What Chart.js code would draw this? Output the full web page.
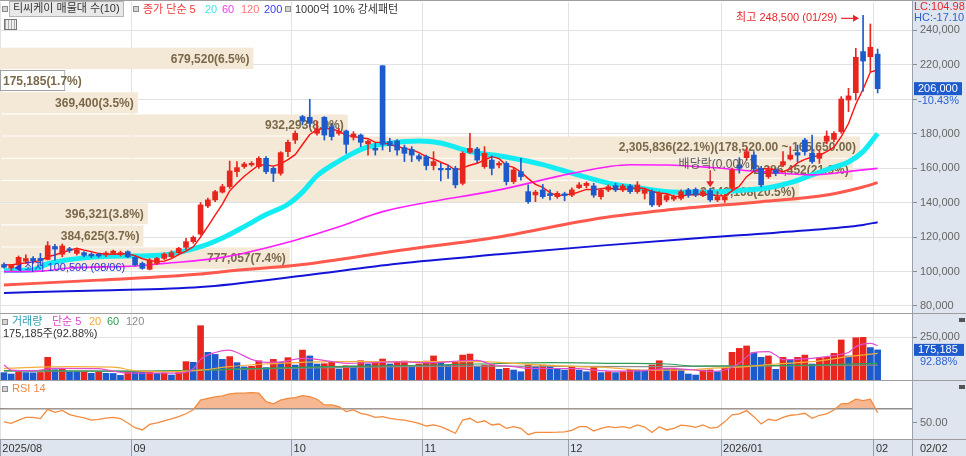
<!DOCTYPE html>
<html lang="ko">
<head>
<meta charset="utf-8">
<title>티씨케이 일봉</title>
<script src="https://cdn.jsdelivr.net/npm/chart.js@4.4.1/dist/chart.umd.min.js"></script>
<style>
  body { margin:0; width:966px; height:456px; overflow:hidden; position:relative; background:#dfe5ee;
         font-family:"Liberation Sans","Noto Sans CJK KR",sans-serif; }
  #plot { position:absolute; left:0; top:0; width:912px; height:439px; background:#fff; }
  canvas { position:absolute; left:0; }
  .sep { position:absolute; left:0; width:966px; height:1px; background:#9e9e9e; }
  .vsep { position:absolute; left:912px; top:0; width:1px; height:456px; background:#98a1ae; }
  .t { position:absolute; white-space:nowrap; font-size:11px; line-height:13px; }
  .sq { position:absolute; width:4px; height:4px; border:1px solid #8c8c8c; background:#d4d4d4; }
  .ic { position:absolute; width:6px; height:4px; background:#555; }
</style>
</head>
<body>
<div id="plot"></div>
<canvas id="profile" width="966" height="313" style="top:0"></canvas>
<canvas id="price" width="966" height="313" style="top:0"></canvas>
<canvas id="volume" width="966" height="67" style="top:313px"></canvas>
<canvas id="rsi" width="966" height="76" style="top:380px"></canvas>
<div class="sep" style="top:0"></div>
<div class="sep" style="top:313px"></div>
<div class="sep" style="top:380px"></div>
<div class="sep" style="top:439px"></div>
<div class="vsep"></div>

<div class="sq" style="left:2px;top:6px"></div>
<div class="t" style="left:9px;top:1px;height:14px;padding:0 3px;background:#e8e8e8;border:1px solid #b5b5b5;color:#333">티씨케이 매물대 수(10)</div>
<div style="position:absolute;left:4px;top:19px;width:11px;height:9px;border:1px solid #777;background:repeating-linear-gradient(90deg,#aaa 0 1px,#eee 1px 3px)"></div>
<div class="sq" style="left:133px;top:6px"></div>
<div class="t" style="left:143px;top:3px;color:#f03a3a">종가 단순 5</div>
<div class="t" style="left:205px;top:3px;color:#3ce6ea">20</div>
<div class="t" style="left:222px;top:3px;color:#f03cf0">60</div>
<div class="t" style="left:241px;top:3px;color:#ff7676">120</div>
<div class="t" style="left:264px;top:3px;color:#3a3af0">200</div>
<div class="sq" style="left:285px;top:6px"></div>
<div class="t" style="left:295px;top:3px;color:#333">1000억 10% 강세패턴</div>

<div class="sq" style="left:2px;top:319px"></div>
<div class="t" style="left:12px;top:315px;color:#2b9fb3">거래량</div>
<div class="t" style="left:52px;top:315px;color:#e048cc">단순 5</div>
<div class="t" style="left:89px;top:315px;color:#f0aa30">20</div>
<div class="t" style="left:107px;top:315px;color:#2f9e55">60</div>
<div class="t" style="left:126px;top:315px;color:#8a8a8a">120</div>
<div class="t" id="volInfo" style="left:3px;top:327px;color:#333"></div>
<div class="sq" style="left:2px;top:386px"></div>
<div class="t" style="left:12px;top:382px;color:#f08a40">RSI 14</div>

<div class="t" id="lc" style="left:914px;top:0;color:#e3282c"></div>
<div class="t" id="hc" style="left:914px;top:11px;color:#2c62d2"></div>
<div class="t" id="lastDay" style="left:920px;top:442px;color:#333"></div>
<div class="ic" style="left:959px;top:318px"></div>
<div class="ic" style="left:959px;top:385px"></div>

<script>
const dates = [
  '2025/08/05','2025/08/06','2025/08/07','2025/08/08','2025/08/11','2025/08/12','2025/08/13','2025/08/14','2025/08/18','2025/08/19',
  '2025/08/20','2025/08/21','2025/08/22','2025/08/25','2025/08/26','2025/08/27','2025/08/28','2025/08/29',
  '2025/09/01','2025/09/02','2025/09/03','2025/09/04','2025/09/05','2025/09/08','2025/09/09','2025/09/10','2025/09/11','2025/09/12',
  '2025/09/15','2025/09/16','2025/09/17','2025/09/18','2025/09/19','2025/09/22','2025/09/23','2025/09/24','2025/09/25','2025/09/26',
  '2025/09/29','2025/09/30',
  '2025/10/01','2025/10/02','2025/10/10','2025/10/13','2025/10/14','2025/10/15','2025/10/16','2025/10/17','2025/10/20','2025/10/21',
  '2025/10/22','2025/10/23','2025/10/24','2025/10/27','2025/10/28','2025/10/29','2025/10/30','2025/10/31',
  '2025/11/03','2025/11/04','2025/11/05','2025/11/06','2025/11/07','2025/11/10','2025/11/11','2025/11/12','2025/11/13','2025/11/14',
  '2025/11/17','2025/11/18','2025/11/19','2025/11/20','2025/11/21','2025/11/24','2025/11/25','2025/11/26','2025/11/27','2025/11/28',
  '2025/12/01','2025/12/02','2025/12/03','2025/12/04','2025/12/05','2025/12/08','2025/12/09','2025/12/10','2025/12/11','2025/12/12',
  '2025/12/15','2025/12/16','2025/12/17','2025/12/18','2025/12/19','2025/12/22','2025/12/23','2025/12/24','2025/12/26','2025/12/29',
  '2025/12/30',
  '2026/01/02','2026/01/05','2026/01/06','2026/01/07','2026/01/08','2026/01/09','2026/01/12','2026/01/13','2026/01/14','2026/01/15',
  '2026/01/16','2026/01/19','2026/01/20','2026/01/21','2026/01/22','2026/01/23','2026/01/26','2026/01/27','2026/01/28','2026/01/29',
  '2026/01/30',
  '2026/02/02'
];

const opens = [
  104000,102000,103800,106000,107600,107600,107000,114500,110000,113200,
  110500,110900,110100,110000,109600,110500,109800,111500,108200,104700,
  101300,104700,107600,108600,110900,114000,117300,121700,138000,141500,
  146000,149200,157900,160800,161800,160800,165600,159800,156900,169500,
  176200,189800,189400,180100,189400,184000,180100,181500,177800,179100,
  174000,171400,219300,175300,175700,171800,170800,167000,166600,161400,
  159800,159800,159800,151100,169100,171000,160800,164600,161700,162700,
  152100,157900,146300,144400,147300,145100,143400,145000,144300,148600,
  149800,149600,143400,147300,149800,147300,149600,146300,145300,146300,
  138600,141500,142000,142400,147300,147600,144300,146900,141500,141500,
  148200,161700,166000,167500,159800,155000,158900,161700,165200,168900,
  176200,168500,165600,175500,176600,181100,199400,203700,227500,224500,
  226000
];
const highs = [
  105000,104000,109000,109600,108600,110500,117300,115800,116000,114000,
  113500,111500,110900,110600,111500,112400,111800,112000,108600,105500,
  107500,108200,110800,112000,114000,119200,120600,140000,142500,147000,
  150500,164000,163700,163300,163700,166600,166600,160800,169500,176200,
  181500,190500,199800,186900,189800,185900,183000,182000,181100,179700,
  176200,174300,219300,177200,176500,173300,172400,168000,167500,169500,
  162700,161700,161000,169500,180100,172000,172400,167000,163700,163700,
  160000,165600,150200,147000,150500,147300,146300,146000,148500,151500,
  152000,151100,148200,150200,151100,150500,150500,152100,147800,147300,
  146300,145000,144300,147300,148200,148500,147300,148200,146300,144500,
  160000,166000,171500,169500,161000,160800,160000,169500,172400,173300,
  177200,179100,170400,181500,181100,201400,206200,229400,248500,243500,
  229000
];
const lows = [
  102000,100500,102800,104500,104700,103800,106700,106500,108500,111000,
  109500,108500,108000,108200,108600,109800,109000,108000,103200,101300,
  100900,104000,107000,108000,110500,112500,116300,121000,137000,140500,
  145500,148200,155000,159800,161000,159800,156700,152100,155800,166600,
  174200,185000,184000,179100,176200,176200,179100,168500,176200,172400,
  167500,167500,170400,169500,167500,163700,163700,164000,158900,158900,
  152500,154000,148500,150200,168500,163000,159800,156000,160000,150200,
  151000,153000,139500,140500,142400,141500,142400,141000,143400,148000,
  148500,143000,142000,146300,146300,146300,145300,145300,142000,137600,
  137600,140500,141000,141500,143000,143400,143400,140500,140500,140000,
  147000,157000,164500,158000,149000,154000,155500,160800,164600,163700,
  167500,162700,162700,174000,175300,180100,192700,199400,204500,216000,
  203500
];
const closes = [
  102500,103500,108200,107500,106100,106300,115000,113000,114800,112100,
  112500,109400,109000,109000,110700,111800,110900,108600,103800,101800,
  106700,107600,110100,110900,113400,117300,119800,138600,141500,146300,
  149200,158300,160200,162300,162700,165600,157900,156900,168900,174900,
  180100,187300,185900,182600,179100,178200,181100,173700,179700,174900,
  175500,170400,173700,173000,170400,168500,167500,165200,161400,163700,
  158900,159000,150200,168500,171400,164600,168500,159800,162700,152100,
  158900,155000,140500,146000,143400,144000,145300,144000,147300,150200,
  151100,144300,147300,149200,147300,149600,146300,150200,147300,138600,
  145300,144000,143400,146300,144300,144300,146300,141500,143400,143400,
  158900,159800,169500,159400,150200,158900,157000,163700,167500,167500,
  169500,163700,168500,178500,180100,200000,201800,224200,222000,230000,
  206000
];

const ma5 = [
  104000,103800,104500,105000,105560,106320,108620,109580,111040,112240,
  113480,112360,111560,110400,110120,109980,110280,110200,109160,107380,
  106360,105700,106000,107420,109740,111860,114300,120000,126120,132700,
  139080,146780,151100,155260,158540,161820,161740,161080,162400,164840,
  167740,173620,179420,182160,183000,182620,181380,178940,178360,177520,
  176980,174840,174840,173500,172600,171200,170620,168920,166600,165260,
  163340,161640,158640,160060,161600,162740,164640,166560,165400,161540,
  160400,157700,153840,150500,148760,145780,143840,144540,144800,146160,
  147580,147380,148040,148420,147840,147540,147940,148520,148140,146400,
  145540,145080,143720,143520,144660,144460,144920,144540,143960,143780,
  146700,149400,155000,158200,159560,159560,159000,157840,159460,162920,
  165040,166380,167340,169540,172060,178160,185780,196920,205620,215600,
  216800
];
const ma20At = [0,4,6,13,18,22,27,30,33,36,39,41,43,46,48,50,53,55,57,60,64,69,74,78,83,87,91,95,98,101,105,108,111,114,116,118,120];
const ma20 = [100500,101000,104500,108500,109000,109600,114400,119400,126000,133000,
  139000,146000,155500,164000,168700,172200,174400,175300,175700,174500,
  169500,166400,162000,157000,151200,148600,146300,146000,146300,147000,
  148600,151500,156000,160500,163500,169500,180000];
const ma60At = [0,5,9,18,22,30,39,46,52,60,65,69,78,86,91,97,104,111,117,120];
const ma60 = [99900,100200,102000,103200,104700,108200,117000,126000,134700,141500,
  145000,148200,156900,161900,161700,160300,157900,156000,158500,159800];
const ma120At = [0,13,27,30,41,54,68,82,91,104,113,118,120];
const ma120 = [92200,95000,98500,99900,104000,112000,120000,131000,135600,140500,144300,149000,151500];
const ma200At = [0,13,27,41,54,68,82,96,109,118,120];
const ma200 = [87600,89000,91000,97600,104500,110000,115000,119500,123500,127000,128600];

const volumes = [
  42600,35000,48000,43000,42000,44000,132000,60000,62000,48000,
  47000,49000,39000,48000,39000,38000,27000,49000,48000,46000,
  48000,39000,41000,29000,43000,107000,103000,316000,161000,149000,
  120000,136000,101000,76000,80000,112000,72000,120000,103000,130000,
  87000,174000,140000,93000,95000,103000,64000,83000,82000,112000,
  93000,103000,122000,93000,103000,110000,81000,93000,110000,140000,
  101000,87000,107000,145000,151000,78000,87000,88000,62000,68000,
  58000,48000,87000,74000,87000,86000,64000,58000,74000,58000,
  48000,78000,43000,48000,43000,48000,62000,58000,57000,87000,
  112000,68000,69000,62000,35000,29000,58000,59000,48000,68000,
  161000,184000,198000,159000,132000,140000,62000,132000,120000,132000,
  145000,93000,126000,132000,155000,233000,140000,246000,248000,188613,
  175185
];
const vma5At = [0,1,4,7,13,15,17,24,26,27,29,31,32,34,36,38,41,43,45,47,50,54,59,63,65,67,70,72,79,81,84,88,91,95,97,99,101,102,103,105,106,107,109,113,115,116,117,119,120];
const vma5 = [87000,58000,54000,68000,66000,52000,40000,40000,65000,120000,
  160000,174000,160000,120000,103000,105000,126000,120000,107000,97000,
  100000,105000,101000,112000,114000,90000,78000,68000,66000,58000,
  52000,54000,68000,58000,50000,58000,97000,136000,159000,165000,
  145000,118000,120000,136000,150000,160000,194000,213000,200000];
const vma20At = [0,9,15,18,22,27,31,36,45,50,65,70,74,79,83,88,93,97,102,106,111,116,120];
const vma20 = [68000,78000,75000,54000,48000,58000,78000,93000,107000,107000,107000,97000,
  87000,78000,72000,58000,58000,68000,78000,93000,107000,136000,155000];
const vma60At = [0,18,27,36,45,54,65,75,84,91,95,102,111,120];
const vma60 = [54000,52000,58000,68000,78000,83000,93000,101000,97000,93000,81000,83000,87000,97000];
const vma120At = [0,18,36,54,65,88,102,120];
const vma120 = [52000,50000,66000,78000,81000,78000,81000,87000];

const rsi = [
  51.5,49.5,54,57.7,57.5,56,68.5,64.5,67,61.5,
  59,57,54,55,56.5,57.5,56,50,43.6,40.5,
  48,50,53,55.5,58.5,62.5,68,81,83.6,85.5,
  86.8,89.5,90.5,90.5,91.4,90.5,79,76,81,83.6,
  84.5,87.3,86,82.3,74.5,74.5,72.3,65.5,67.7,63.2,
  61,57.7,58.6,56.4,55,54,51.8,49.5,45.9,47.3,
  45,40.5,36,54,56.4,50.5,53,47.3,48.6,42.7,
  45,42.7,34,37.3,37.3,37.3,37.5,38,40,45,
  45,39,42.5,45,43.6,45,43,47.3,44.5,37,
  45,40.5,42.7,47,46,44,47.3,43,44,51.5,
  61,62.3,66.8,58.6,48.6,55,53.2,57.7,60.5,61.4,
  63.2,56.4,60.5,62.3,67.7,76,76.8,82.3,80.5,82.3,
  64
];

// volume profile (매물대): lower edge of each price band, band height, traded volume
const bandLow = [101300,114170,127040,139910,152780,165650,178520,191390,204260,217130];
const bandStep = 12870;
const bandVol = [777057,384625,396321,2143108,2286452,2305836,932293,369400,175185,679520];

const priceTicks = [80000,100000,120000,140000,160000,180000,200000,220000,240000];
const volTicks = [250000];
const rsiTicks = [50, 70];
const exDivDate = '2025/12/29';

const FONT = '"Liberation Sans","Noto Sans CJK KR",sans-serif';
const RED = '#e8261e', BLUE = '#1d5bcc';
const X_MIN = -0.55, X_MAX = 124.72;
const P_MIN = 75942, P_MAX = 256232;

const fmt = v => v.toLocaleString('en-US');
const fmt2 = v => v.toLocaleString('en-US', { minimumFractionDigits: 2 });
const md = i => dates[i].slice(5);
const last = closes.length - 1;
const lowIdx = lows.indexOf(Math.min(...lows));
const highIdx = highs.indexOf(Math.max(...highs));
const chg = ((closes[last] / closes[last - 1] - 1) * 100).toFixed(2);
const volRatio = (volumes[last] / volumes[last - 1] * 100).toFixed(2);
const bandTotal = bandVol.reduce((a, b) => a + b, 0);
const bandMax = Math.max(...bandVol);
const curBand = bandLow.findIndex(p => closes[last] >= p && closes[last] < p + bandStep);

const monthStarts = dates.map((d, i) => (i === 0 || d.slice(0, 7) !== dates[i - 1].slice(0, 7)) ? i : -1).filter(i => i >= 0);
const monthLabel = i => (i === 0 || dates[i].slice(5, 7) === '01') ? dates[i].slice(0, 7) : dates[i].slice(5, 7);

document.getElementById('lc').textContent = 'LC:' + ((closes[last] / lows[lowIdx] - 1) * 100).toFixed(2);
document.getElementById('hc').textContent = 'HC:' + ((closes[last] / highs[highIdx] - 1) * 100).toFixed(2);
document.getElementById('volInfo').textContent = fmt(volumes[last]) + '주(' + volRatio + '%)';
document.getElementById('lastDay').textContent = md(last);

const base = {
  responsive: false, animation: false, events: [],
  plugins: { legend: { display: false }, tooltip: { enabled: false } }
};

function monthAxis(withLabels) {
  return {
    type: 'linear', position: 'bottom', min: X_MIN, max: X_MAX, offset: false,
    afterBuildTicks: s => { s.ticks = monthStarts.map(i => ({ value: i - 0.5 })); },
    afterFit: s => { s.height = withLabels ? 17 : 0; s.paddingLeft = 0; s.paddingRight = 0; },
    grid: { offset: false, color: '#e2e2e2', drawTicks: withLabels, tickLength: 17, tickColor: '#939dab' },
    border: { display: false },
    ticks: {
      display: withLabels, autoSkip: false, maxRotation: 0, align: 'start', padding: -14, labelOffset: 2,
      color: '#333', font: { family: FONT, size: 11 },
      callback: (v, k) => monthLabel(monthStarts[k])
    }
  };
}

function rightAxis(min, max, tickList, extra) {
  return Object.assign({
    type: 'linear', position: 'right', min, max, beginAtZero: false, offset: false,
    afterBuildTicks: s => { s.ticks = tickList.map(v => ({ value: v })); },
    afterFit: s => { s.width = 54; s.paddingTop = 0; s.paddingBottom = 0; },
    grid: { color: '#e2e2e2', tickLength: 5, tickColor: '#8a8a8a' },
    border: { display: false },
    ticks: { padding: 3, color: '#666', font: { family: FONT, size: 11 }, callback: v => fmt(v) }
  }, extra);
}

const sparse = (at, vals) => at.map((i, k) => ({ x: i, y: vals[k] }));
const line = (data, color, width, extra) => Object.assign({
  type: 'line', data, borderColor: color, borderWidth: width, pointRadius: 0, fill: false,
  cubicInterpolationMode: 'monotone', order: 1
}, extra);

const candleColor = i => closes[i] >= opens[i] ? RED : BLUE;
const volColor = i => (i > 0 && volumes[i] >= volumes[i - 1]) ? RED : BLUE;

// 매물대 labels
const bandLabels = {
  id: 'bandLabels',
  afterDatasetsDraw(chart) {
    const { ctx } = chart;
    ctx.save();
    ctx.font = 'bold 12px ' + FONT;
    ctx.fillStyle = '#7a684a';
    ctx.textBaseline = 'middle';
    chart.getDatasetMeta(0).data.forEach((bar, k) => {
      let txt = fmt(bandVol[k]) + '(' + (bandVol[k] / bandTotal * 100).toFixed(1) + '%)';
      if (bandVol[k] === bandMax) txt += '(' + fmt2(bandLow[k] + bandStep) + ' ~ ' + fmt2(bandLow[k]) + ')';
      const w = ctx.measureText(txt).width;
      if (w + 6 > bar.x - bar.base) { ctx.textAlign = 'left'; ctx.fillText(txt, bar.base + 3, bar.y + 1); }
      else { ctx.textAlign = 'right'; ctx.fillText(txt, bar.x - 4, bar.y + 1); }
    });
    ctx.restore();
  }
};

new Chart(document.getElementById('profile'), {
  type: 'bar',
  data: { datasets: [{
    data: bandLow.map((p, k) => ({ x: bandVol[k], y: p + bandStep / 2 })),
    backgroundColor: c => c.dataIndex === curBand ? 'rgba(255,255,255,0)' : '#f4e8d6',
    borderColor: c => c.dataIndex === curBand ? '#a0a0a0' : 'rgba(0,0,0,0)',
    borderWidth: c => c.dataIndex === curBand ? 1 : 0,
    borderSkipped: false,
    categoryPercentage: 1, barPercentage: 0.95
  }] },
  options: Object.assign({}, base, {
    indexAxis: 'y',
    layout: { padding: { top: 2, right: 54 }, autoPadding: false },
    scales: {
      x: { type: 'linear', min: 0, max: 2445200, display: false },
      xt: Object.assign(monthAxis(false), { grid: { offset: false, color: '#e2e2e2', drawTicks: false } }),
      y: {
        type: 'linear', position: 'right', min: P_MIN, max: P_MAX, offset: false,
        afterBuildTicks: s => { s.ticks = priceTicks.map(v => ({ value: v })); },
        afterFit: s => { s.width = 0; s.paddingTop = 0; s.paddingBottom = 0; },
        grid: { offset: false, color: '#e2e2e2', drawTicks: false },
        border: { display: false },
        ticks: { display: false }
      }
    }
  }),
  plugins: [bandLabels]
});

// price annotations: 최고/최저, 배당락, current price tag
const priceMarks = {
  id: 'priceMarks',
  afterDatasetsDraw(chart) {
    const { ctx, scales: { x, y } } = chart;
    ctx.save();
    ctx.font = '11px ' + FONT;
    ctx.textBaseline = 'middle';

    const hx = x.getPixelForValue(highIdx), hy = y.getPixelForValue(highs[highIdx]) + 3;
    ctx.strokeStyle = ctx.fillStyle = '#e8262a';
    ctx.lineWidth = 1.2;
    ctx.beginPath(); ctx.moveTo(hx - 22, hy); ctx.lineTo(hx - 8, hy); ctx.stroke();
    ctx.beginPath(); ctx.moveTo(hx - 4, hy); ctx.lineTo(hx - 10, hy - 3.5); ctx.lineTo(hx - 10, hy + 3.5); ctx.closePath(); ctx.fill();
    ctx.textAlign = 'right';
    ctx.fillText('최고 ' + fmt(highs[highIdx]) + ' (' + md(highIdx) + ')', hx - 26, hy);

    const lx = x.getPixelForValue(lowIdx), ly = y.getPixelForValue(lows[lowIdx]) - 3;
    ctx.fillStyle = '#2b35d8';
    ctx.beginPath(); ctx.moveTo(lx + 3, ly); ctx.lineTo(lx + 10, ly - 4); ctx.lineTo(lx + 10, ly + 4); ctx.closePath(); ctx.fill();
    ctx.textAlign = 'left';
    ctx.fillText('최저 ' + fmt(lows[lowIdx]) + ' (' + md(lowIdx) + ')', lx + 13, ly);

    const ei = dates.indexOf(exDivDate);
    const ex = x.getPixelForValue(ei), ey = y.getPixelForValue(highs[ei]) - 1;
    ctx.strokeStyle = ctx.fillStyle = '#e8262a';
    ctx.lineWidth = 1.5;
    ctx.beginPath(); ctx.moveTo(ex, ey - 17); ctx.lineTo(ex, ey - 5); ctx.stroke();
    ctx.beginPath(); ctx.moveTo(ex, ey); ctx.lineTo(ex - 4, ey - 6); ctx.lineTo(ex + 4, ey - 6); ctx.closePath(); ctx.fill();
    ctx.fillStyle = '#555';
    ctx.textAlign = 'center';
    ctx.font = '12px ' + FONT;
    ctx.fillText('배당락(0.00%)', ex + 6, ey - 23);
    ctx.restore();
  },
  afterDraw(chart) {
    const { ctx, chartArea, scales: { y } } = chart;
    const py = y.getPixelForValue(closes[last]);
    ctx.save();
    ctx.fillStyle = BLUE;
    ctx.fillRect(chartArea.right + 2, py - 6.5, 48, 13);
    ctx.font = '11px ' + FONT;
    ctx.textBaseline = 'middle';
    ctx.textAlign = 'left';
    ctx.fillStyle = '#fff';
    ctx.fillText(fmt(closes[last]), chartArea.right + 6, py);
    ctx.fillStyle = '#2c62d2';
    ctx.fillText(chg + '%', chartArea.right + 6, py + 12);
    ctx.restore();
  }
};

new Chart(document.getElementById('price'), {
  type: 'bar',
  data: { datasets: [
    { data: dates.map((d, i) => ({ x: i, y: [lows[i], highs[i]] })), backgroundColor: c => candleColor(c.dataIndex),
      barThickness: 1, grouped: false, order: 0 },
    { data: dates.map((d, i) => ({ x: i, y: [opens[i], closes[i]] })), backgroundColor: c => candleColor(c.dataIndex),
      barThickness: 5, minBarLength: 1, grouped: false, order: 0 },
    line(ma5.map((v, i) => ({ x: i, y: v })), '#ff1010', 1.4, { cubicInterpolationMode: 'default', tension: 0 }),
    line(sparse(ma60At, ma60), '#ff1eff', 1.6),
    line(sparse(ma20At, ma20), '#12ecf2', 5),
    line(sparse(ma120At, ma120), '#ff584c', 3),
    line(sparse(ma200At, ma200), '#1414d8', 2)
  ] },
  options: Object.assign({}, base, {
    layout: { padding: { top: 2 }, autoPadding: false },
    scales: {
      x: Object.assign(monthAxis(false), { grid: { display: false } }),
      y: rightAxis(P_MIN, P_MAX, priceTicks, {
        grid: { drawOnChartArea: false, tickLength: 5, tickColor: '#8a8a8a' },
        ticks: { padding: 3, color: '#666', font: { family: FONT, size: 11 },
                 callback: v => Math.abs(v - closes[last]) < 9000 ? '' : fmt(v) }
      })
    }
  }),
  plugins: [priceMarks]
});

const volTag = {
  id: 'volTag',
  afterDraw(chart) {
    const { ctx, chartArea, scales: { y } } = chart;
    const vy = y.getPixelForValue(volumes[last]);
    ctx.save();
    ctx.fillStyle = BLUE;
    ctx.fillRect(chartArea.right + 2, vy - 6, 50, 12);
    ctx.font = '11px ' + FONT;
    ctx.textBaseline = 'middle';
    ctx.textAlign = 'left';
    ctx.fillStyle = '#fff';
    ctx.fillText(fmt(volumes[last]), chartArea.right + 6, vy);
    ctx.fillStyle = '#2c62d2';
    ctx.fillText(volRatio + '%', chartArea.right + 8, vy + 12);
    ctx.restore();
  }
};

new Chart(document.getElementById('volume'), {
  type: 'bar',
  data: { datasets: [
    line(sparse(vma5At, vma5), '#e04ed0', 1.2, { order: 0 }),
    line(sparse(vma20At, vma20), '#f2ae3a', 1.2, { order: 0 }),
    line(sparse(vma60At, vma60), '#2f9e55', 1.2, { order: 0 }),
    line(sparse(vma120At, vma120), '#8c8c8c', 1.2, { order: 0 }),
    { data: volumes.map((v, i) => ({ x: i, y: v })), backgroundColor: c => volColor(c.dataIndex),
      barThickness: 6, grouped: false, order: 1 }
  ] },
  options: Object.assign({}, base, {
    layout: { padding: { top: 1 }, autoPadding: false },
    scales: { x: monthAxis(false), y: rightAxis(0, 384000, volTicks) }
  }),
  plugins: [volTag]
});

new Chart(document.getElementById('rsi'), {
  type: 'line',
  data: { datasets: [{
    data: rsi.map((v, i) => ({ x: i, y: v })), borderColor: '#f28b3e', borderWidth: 1.3, pointRadius: 0, tension: 0,
    fill: { target: { value: 70 }, above: '#f6b892', below: 'rgba(0,0,0,0)' }
  }] },
  options: Object.assign({}, base, {
    layout: { padding: { top: 1 }, autoPadding: false },
    scales: {
      x: monthAxis(true),
      y: rightAxis(28.2, 107.1, rsiTicks, {
        grid: {
          color: c => c.tick && c.tick.value === 70 ? '#8e8e8e' : 'rgba(0,0,0,0)',
          lineWidth: c => c.tick && c.tick.value === 70 ? 1.5 : 1,
          tickLength: 5,
          tickColor: c => c.tick && c.tick.value === 50 ? '#8a8a8a' : 'rgba(0,0,0,0)'
        },
        ticks: { padding: 3, color: '#666', font: { family: FONT, size: 11 },
                 callback: v => v === 50 ? v.toFixed(2) : '' }
      })
    }
  })
});
</script>
</body>
</html>
